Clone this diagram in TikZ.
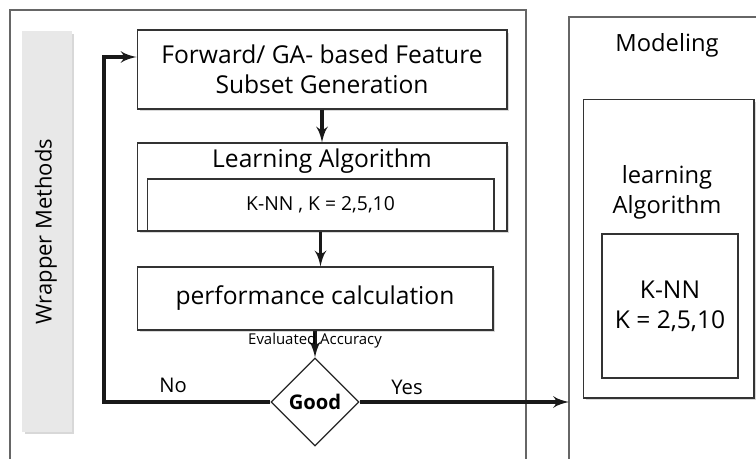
\documentclass[tikz,border=0pt]{standalone}
\usepackage{fontspec}
\setmainfont{Open Sans}
\usetikzlibrary{arrows,shapes,shapes.geometric,shadows,calc}

\begin{document}
\begin{tikzpicture}[>=latex', x=0.02cm, y=-0.02cm]
      \tikzset{
	  stepbox/.style={rectangle, draw=black!80, line width=0.6pt, fill=white, inner sep=0pt, align=center,
	    drop shadow={shadow xshift=0.05cm, shadow yshift=-0.05cm, fill=black!30}, font=\fontsize{14}{17}\selectfont},
	  plainbox/.style={rectangle, draw=black!80, line width=0.6pt, fill=white, inner sep=0pt, align=center},
	  flow/.style={->, line width=2.1pt, black!90},
	  lbl/.style={inner sep=0pt, font=\fontsize{11.5}{13}\selectfont},
	  frame/.style={draw=black!60, line width=0.6pt},
      }
      \useasboundingbox (0,0) rectangle (756,459);

      % outer frames
      \draw[frame] (10,459) -- (10,10) -- (526,10) -- (526,459);
      \draw[frame] (569,459) -- (569,17) -- (756,17);

      \node (wrap) at (47,231.5) [rectangle, fill=black!9, minimum width=1cm, minimum height=8.02cm,
	drop shadow={shadow xshift=0.05cm, shadow yshift=-0.05cm, fill=black!30}] {};
      \node (wraptxt) at (46,231.5) [rotate=90, font=\fontsize{12.5}{14}\selectfont] {Wrapper Methods};

      % wrapper loop
      \node (gen) at (322,69.5) [stepbox, minimum width=7.4cm, minimum height=1.58cm] {Forward/ GA- based Feature\\Subset Generation};
      \node (learn) at (322,187) [stepbox, minimum width=7.4cm, minimum height=1.76cm] {};
      \node (learntxt) at (322,161) [font=\fontsize{14}{17}\selectfont] {Learning Algorithm};
      \node (knn) at (320.5,205) [plainbox, minimum width=6.94cm, minimum height=1.04cm, font=\fontsize{11}{13}\selectfont] {K-NN , K = 2,5,10};
      \node (perf) at (315,298.5) [stepbox, minimum width=7.12cm, minimum height=1.26cm] {performance calculation};
      \node (good) at (315,402) [diamond, draw=black!85, line width=0.7pt, fill=white, inner sep=0pt,
	minimum width=1.76cm, minimum height=1.76cm, font=\bfseries\fontsize{11.5}{13}\selectfont] {Good};

      \draw[flow] (gen.south) -- (learn.north);
      \draw[flow] (knn.south) -- (knn.south |- perf.north);
      \draw[flow] (perf.south) -- (good.north);
      \node (evacc) at (315,341) [lbl, font=\fontsize{8.5}{10}\selectfont] {Evaluated Accuracy};

      \coordinate (nocorner) at (104,57);
      \draw[flow] (good.west) -| (nocorner) -- (nocorner -| gen.west);
      \node (no) at (173,385) [lbl] {No};

      \coordinate (mdlin) at (569,402);
      \draw[flow] (good.east) -- (mdlin);
      \node (yes) at (407,387) [lbl] {Yes};

      % modeling side
      \node (mdl) at (667,45) [font=\fontsize{13.5}{17}\selectfont] {Modeling};
      \node (mdlbox) at (668.5,248.5) [stepbox, minimum width=3.42cm, minimum height=5.98cm] {};
      \node (mdltxt) at (667,192) [align=center, font=\fontsize{13.5}{17}\selectfont] {learning\\Algorithm};
      \node (mdlknn) at (670,306) [plainbox, minimum width=2.72cm, minimum height=2.88cm, font=\fontsize{14}{17}\selectfont] {K-NN\\K = 2,5,10};
\end{tikzpicture}
\end{document}
